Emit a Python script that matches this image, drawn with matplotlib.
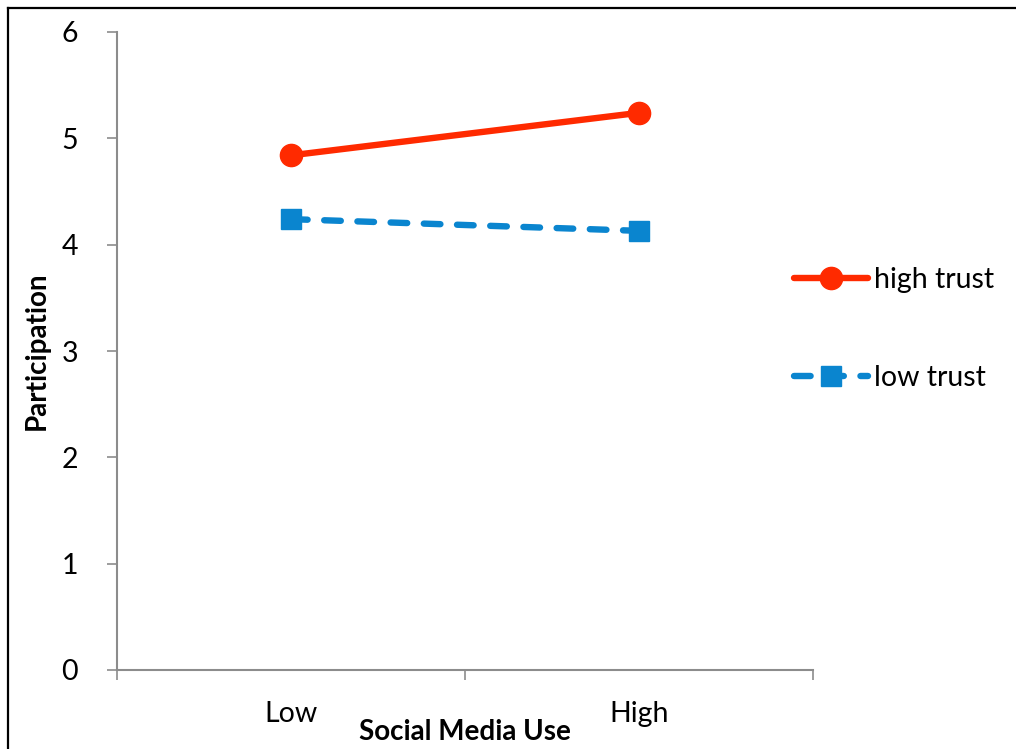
import matplotlib
matplotlib.use("Agg")
import matplotlib.pyplot as plt
from matplotlib.lines import Line2D

# Participation by social media use, for high and low trust groups
categories = ["Low", "High"]
high_trust = [4.84, 5.24]
low_trust = [4.24, 4.13]
y_ticks = [0, 1, 2, 3, 4, 5, 6]

plt.rcParams['font.family'] = ['Lato', 'DejaVu Sans']

fig = plt.figure(figsize=(10.16, 7.49), dpi=100)
ax = fig.add_axes([117 / 1016, 1 - 670 / 749, 696 / 1016, 638 / 749])

x = list(range(len(categories)))
ax.plot(x, high_trust, color='#ff2a00', lw=4.6, marker='o', ms=16,
        solid_capstyle='round', label='high trust')
ax.plot(x, low_trust, color='#0a85cf', lw=4.6, marker='s', ms=15,
        linestyle=(0, (2.6, 2.6)), dash_capstyle='round', label='low trust')

ax.set_xlim(-0.5, 1.5)
ax.set_ylim(0, 6)
ax.set_yticks(y_ticks)
ax.set_xticks([-0.5, 0.5, 1.5])
ax.set_xticklabels([])
ax.set_xticks(x, minor=True)
ax.set_xticklabels(categories, minor=True)
ax.tick_params(axis='x', which='minor', length=0, pad=22, labelsize=20.5)
ax.tick_params(axis='x', which='major', length=7, width=1.2, color='#8c8c8c')
ax.tick_params(axis='y', length=7, width=1.2, color='#8c8c8c', pad=21, labelsize=20.5)

for side in ['top', 'right']:
    ax.spines[side].set_visible(False)
for side in ['left', 'bottom']:
    ax.spines[side].set_color('#8c8c8c')
    ax.spines[side].set_linewidth(1.5)

ax.set_xlabel('Social Media Use', fontsize=20, fontweight='bold')
ax.xaxis.set_label_coords(0.5, -0.077)
ax.set_ylabel('Participation', fontsize=20, fontweight='bold')
ax.yaxis.set_label_coords(-0.096, 0.5)

ax.legend(loc='center left', bbox_to_anchor=(780 / 1016, 1 - 329 / 749),
          bbox_transform=fig.transFigure, frameon=False, fontsize=20.5,
          handlelength=2.6, handletextpad=0.2, labelspacing=2.5,
          borderpad=0)

# outer border (left and top edges)
fig.add_artist(Line2D([8 / 1016, 8 / 1016], [-0.01, 1 - 8 / 749], color='black', lw=1.6))
fig.add_artist(Line2D([8 / 1016, 1.01], [1 - 8 / 749, 1 - 8 / 749], color='black', lw=1.6))

fig.savefig('out.png', dpi=100)
